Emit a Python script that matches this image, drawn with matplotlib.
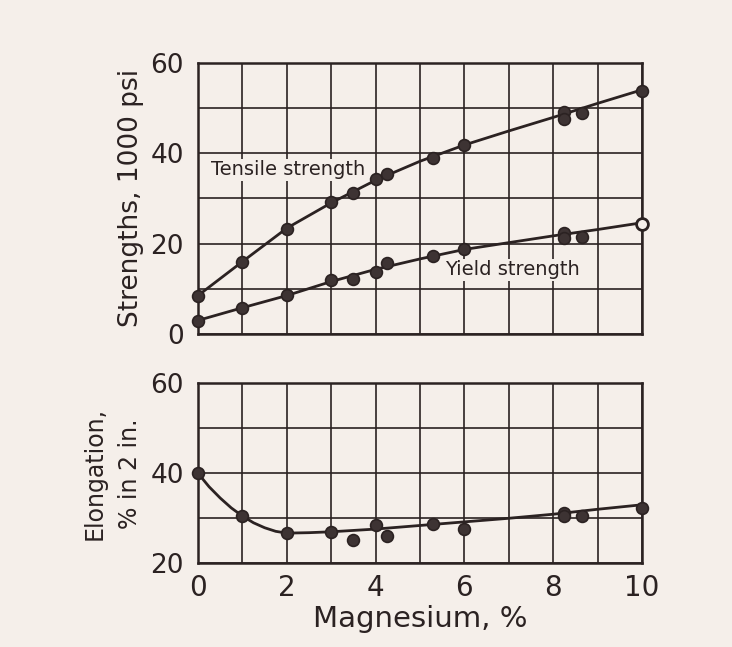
# strength and elongation of Al-Mg alloys against magnesium content
import numpy as np
import matplotlib
matplotlib.use('Agg')
import matplotlib.pyplot as plt

plt.rcParams['font.family'] = ['DejaVu Sans']

# measured points (Mg %, value)
mg_pts = [0, 1, 2, 3, 3.5, 4, 4.25, 5.3, 6, 8.25, 8.25, 8.65, 10]
tensile_pts = [8.3, 16.0, 23.2, 29.1, 31.1, 34.2, 35.4, 38.9, 41.8, 49.0, 47.5, 48.8, 53.8]
yield_pts = [2.9, 5.7, 8.6, 11.9, 12.1, 13.8, 15.8, 17.3, 18.7, 22.4, 21.2, 21.5, 24.3]
elong_pts = [40.0, 30.4, 26.7, 27.0, 25.2, 28.5, 26.1, 28.7, 27.7, 31.1, 30.5, 30.5, 32.2]

# hand-faired curves
mg_curve = [0, 1, 2, 3, 4, 5, 6, 7, 8, 9, 10]
tensile_curve = [8.5, 16.0, 23.4, 29.0, 34.0, 38.2, 41.8, 44.9, 47.9, 51.0, 54.0]
yield_curve = [3.0, 5.8, 8.5, 11.6, 14.3, 16.6, 18.7, 20.2, 21.7, 23.1, 24.6]
mg_elong_curve = [0, 0.25, 0.5, 0.75, 1, 1.25, 1.5, 1.75, 2, 2.5, 3, 4, 5, 6, 7, 8, 9, 10]
elong_curve = [40.0, 37.0, 34.5, 32.3, 30.5, 29.0, 27.9, 27.1, 26.7, 26.8, 27.0, 27.6,
               28.4, 29.2, 30.0, 30.9, 32.0, 33.0]

paper = '#f5efea'
ink = '#2b2222'

fig = plt.figure(figsize=(7.32, 6.47), dpi=100)
fig.patch.set_facecolor(paper)

ax1 = fig.add_axes([0.2705, 0.4838, 0.6065, 0.4193])
ax2 = fig.add_axes([0.2705, 0.1294, 0.6065, 0.2782])


def style_axis(ax, ylo, yhi, show_x):
    ax.set_facecolor(paper)
    ax.set_xlim(0, 10)
    ax.set_ylim(ylo, yhi)
    ax.set_xticks(np.arange(0, 11, 2))
    ax.set_xticks(np.arange(1, 10, 2), minor=True)
    ax.set_yticks(np.arange(ylo, yhi + 1, 20))
    ax.set_yticks(np.arange(ylo + 10, yhi, 20), minor=True)
    ax.grid(True, which='both', color=ink, linewidth=1.2)
    ax.tick_params(which='both', length=0, colors=ink)
    ax.tick_params(axis='y', pad=10, labelsize=19)
    ax.tick_params(axis='x', pad=8, labelsize=20)
    if not show_x:
        ax.set_xticklabels([])
    for s in ax.spines.values():
        s.set_color(ink)
        s.set_linewidth(1.8)
    ax.set_axisbelow(True)


style_axis(ax1, 0, 60, False)
style_axis(ax2, 20, 60, True)

# upper panel: strengths
ax1.plot(mg_curve, tensile_curve, color=ink, lw=2.0, zorder=3)
ax1.plot(mg_curve, yield_curve, color=ink, lw=2.0, zorder=3)
ax1.plot(mg_pts, tensile_pts, 'o', ms=8.5, mfc='#3d3333', mec=ink, mew=1.2,
         clip_on=False, zorder=4)
ax1.plot(mg_pts[:-1], yield_pts[:-1], 'o', ms=8.5, mfc='#3d3333', mec=ink, mew=1.2,
         clip_on=False, zorder=4)
ax1.plot(mg_pts[-1:], yield_pts[-1:], 'o', ms=8.5, mfc=paper, mec=ink, mew=2.0,
         clip_on=False, zorder=4)
ax1.text(0.3, 36.3, 'Tensile strength', fontsize=14, color=ink, va='center', ha='left',
         bbox=dict(facecolor=paper, edgecolor='none', pad=1))
ax1.text(5.57, 14.2, 'Yield strength', fontsize=14, color=ink, va='center', ha='left',
         bbox=dict(facecolor=paper, edgecolor='none', pad=1))
ax1.set_ylabel('Strengths, 1000 psi', fontsize=19, color=ink, labelpad=5)

# lower panel: elongation
ax2.plot(mg_elong_curve, elong_curve, color=ink, lw=2.0, zorder=3)
ax2.plot(mg_pts, elong_pts, 'o', ms=8.5, mfc='#3d3333', mec=ink, mew=1.2,
         clip_on=False, zorder=4)
ax2.set_ylabel('Elongation,\n% in 2 in.', fontsize=17, color=ink, labelpad=6,
               linespacing=1.6)
ax2.set_xlabel('Magnesium, %', fontsize=21, color=ink, labelpad=2)

fig.savefig('out.png', dpi=100, facecolor=paper)
